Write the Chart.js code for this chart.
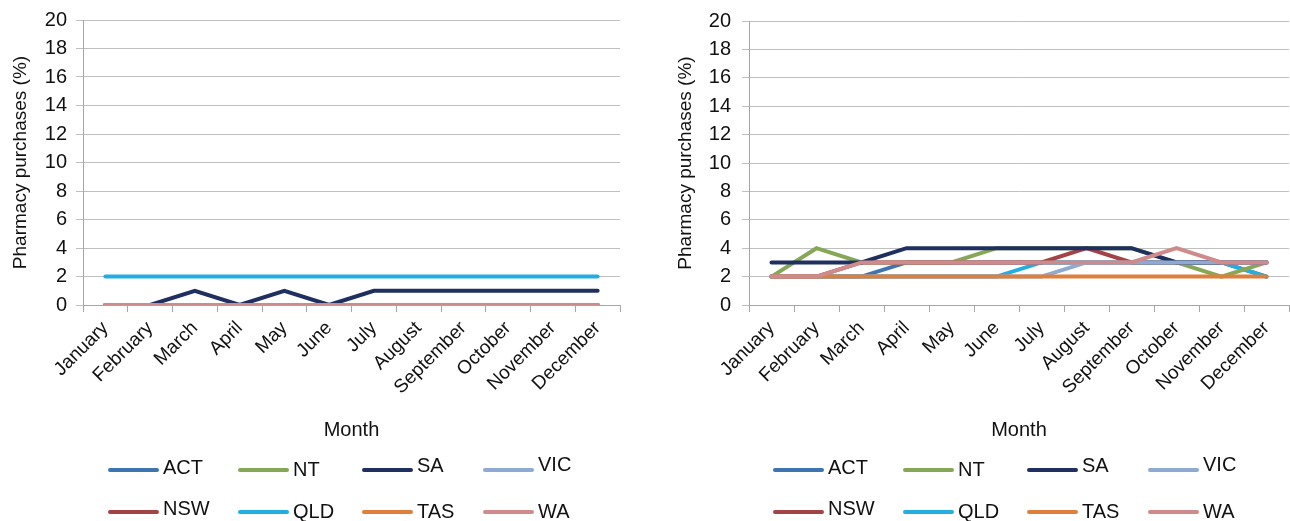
<!DOCTYPE html>
<html>
<head>
<meta charset="utf-8">
<script src="https://cdn.jsdelivr.net/npm/chart.js@4.4.0/dist/chart.umd.min.js"></script>
<style>
  body { margin: 0; background: #fff; }
  #wrap { position: relative; width: 1290px; height: 521px; }
  canvas { position: absolute; top: 0; }
  #left { left: 0; }
  #right { left: 645px; }
</style>
</head>
<body>
<div id="wrap">
  <canvas id="left" width="645" height="521"></canvas>
  <canvas id="right" width="645" height="521"></canvas>
</div>
<script>
const months = ['January', 'February', 'March', 'April', 'May', 'June', 'July',
  'August', 'September', 'October', 'November', 'December'];
const yTicks = [0, 2, 4, 6, 8, 10, 12, 14, 16, 18, 20];

// left chart
const leftACT = [0, 0, 0, 0, 0, 0, 0, 0, 0, 0, 0, 0];
const leftNT  = [0, 0, 0, 0, 0, 0, 0, 0, 0, 0, 0, 0];
const leftSA  = [0, 0, 1, 0, 1, 0, 1, 1, 1, 1, 1, 1];
const leftVIC = [0, 0, 0, 0, 0, 0, 0, 0, 0, 0, 0, 0];
const leftNSW = [0, 0, 0, 0, 0, 0, 0, 0, 0, 0, 0, 0];
const leftQLD = [2, 2, 2, 2, 2, 2, 2, 2, 2, 2, 2, 2];
const leftTAS = [0, 0, 0, 0, 0, 0, 0, 0, 0, 0, 0, 0];
const leftWA  = [0, 0, 0, 0, 0, 0, 0, 0, 0, 0, 0, 0];

// right chart
const rightACT = [2, 2, 2, 3, 3, 3, 3, 3, 3, 3, 3, 2];
const rightNT  = [2, 4, 3, 3, 3, 4, 4, 4, 4, 3, 2, 3];
const rightSA  = [3, 3, 3, 4, 4, 4, 4, 4, 4, 3, 3, 3];
const rightVIC = [2, 2, 2, 2, 2, 2, 2, 3, 3, 3, 3, 3];
const rightNSW = [2, 2, 3, 3, 3, 3, 3, 4, 3, 3, 3, 3];
const rightQLD = [2, 2, 2, 2, 2, 2, 3, 3, 3, 3, 3, 2];
const rightTAS = [2, 2, 2, 2, 2, 2, 2, 2, 2, 2, 2, 2];
const rightWA  = [2, 2, 3, 3, 3, 3, 3, 3, 3, 4, 3, 3];

const colors = {
  ACT: '#3e74af', NT: '#86a856', SA: '#1f2f5f', VIC: '#8ea9d2',
  NSW: '#a34344', QLD: '#22aee3', TAS: '#df7f3c', WA: '#cf8b8b'
};
// legend layout: two rows of four
const legendRows = [['ACT', 'NT', 'SA', 'VIC'], ['NSW', 'QLD', 'TAS', 'WA']];
const legendCols = [110, 240, 364, 485];
const legendLineY = [470, 512];
const legendTextY = [[468, 470, 466, 465], [509, 512, 512, 512]];

const FONT = "'Liberation Sans', Arial, sans-serif";

// fixed-grid legend drawn on the chart canvas
const gridLegend = {
  id: 'gridLegend',
  afterDraw(chart, args, opts) {
    const ctx = chart.ctx;
    ctx.save();
    legendRows.forEach((row, r) => {
      row.forEach((name, c) => {
        const x = legendCols[c] + opts.shift;
        ctx.strokeStyle = colors[name];
        ctx.lineWidth = 4;
        ctx.lineCap = 'round';
        ctx.beginPath();
        ctx.moveTo(x, legendLineY[r]);
        ctx.lineTo(x + 47, legendLineY[r]);
        ctx.stroke();
        ctx.fillStyle = '#111';
        ctx.font = '20px ' + FONT;
        ctx.textBaseline = 'middle';
        ctx.textAlign = 'left';
        ctx.fillText(name, x + 53, legendTextY[r][c]);
      });
    });
    ctx.restore();
  }
};

function makeChart(id, series, opt) {
  // first dataset is drawn on top
  const order = ['WA', 'TAS', 'VIC', 'SA', 'NSW', 'NT', 'QLD', 'ACT'];
  const datasets = order.map(name => ({
    label: name,
    data: series[name],
    borderColor: colors[name],
    backgroundColor: colors[name],
    borderWidth: 4,
    pointRadius: 0,
    pointHoverRadius: 0,
    tension: 0,
    fill: false,
    borderCapStyle: 'round',
    borderJoinStyle: 'miter'
  }));
  return new Chart(document.getElementById(id), {
    type: 'line',
    data: { labels: months, datasets: datasets },
    plugins: [gridLegend],
    options: {
      responsive: false,
      animation: false,
      events: [],
      layout: { padding: { left: opt.padLeft, right: opt.padRight, top: 20, bottom: 76 } },
      plugins: {
        legend: { display: false },
        tooltip: { enabled: false },
        gridLegend: { shift: opt.shift }
      },
      scales: {
        x: {
          offset: true,
          afterFit: s => { s.height = 140; },
          grid: {
            offset: true,
            drawOnChartArea: false,
            drawTicks: true,
            tickLength: 7,
            color: '#a6a6a6',
            lineWidth: 1
          },
          border: { color: '#a6a6a6', width: 1 },
          ticks: {
            autoSkip: false,
            maxRotation: 45,
            minRotation: 45,
            padding: 5,
            color: '#111',
            font: { family: FONT, size: 19 }
          },
          title: {
            display: true,
            text: 'Month',
            color: '#111',
            font: { family: FONT, size: 20 },
            padding: { top: 4, bottom: 3 }
          }
        },
        y: {
          min: 0,
          max: 20,
          afterFit: s => { s.width = opt.yWidth; },
          afterBuildTicks: s => { s.ticks = yTicks.map(v => ({ value: v })); },
          grid: {
            color: '#bfbfbf',
            lineWidth: 1,
            drawTicks: true,
            tickLength: 7
          },
          border: { color: '#a6a6a6', width: 1 },
          ticks: {
            autoSkip: false,
            padding: opt.tickPad,
            color: '#111',
            font: { family: FONT, size: 20, lineHeight: 1 }
          },
          title: {
            display: true,
            text: 'Pharmacy purchases (%)',
            color: '#111',
            font: { family: FONT, size: 19 },
            padding: { top: 9, bottom: 0 }
          }
        }
      }
    }
  });
}

makeChart('left', {
  ACT: leftACT, NT: leftNT, SA: leftSA, VIC: leftVIC,
  NSW: leftNSW, QLD: leftQLD, TAS: leftTAS, WA: leftWA
}, { padLeft: 0, padRight: 25, yWidth: 83, tickPad: 9, shift: 0 });

makeChart('right', {
  ACT: rightACT, NT: rightNT, SA: rightSA, VIC: rightVIC,
  NSW: rightNSW, QLD: rightQLD, TAS: rightTAS, WA: rightWA
}, { padLeft: 20, padRight: 1, yWidth: 84, tickPad: 11, shift: 20 });
</script>
</body>
</html>
